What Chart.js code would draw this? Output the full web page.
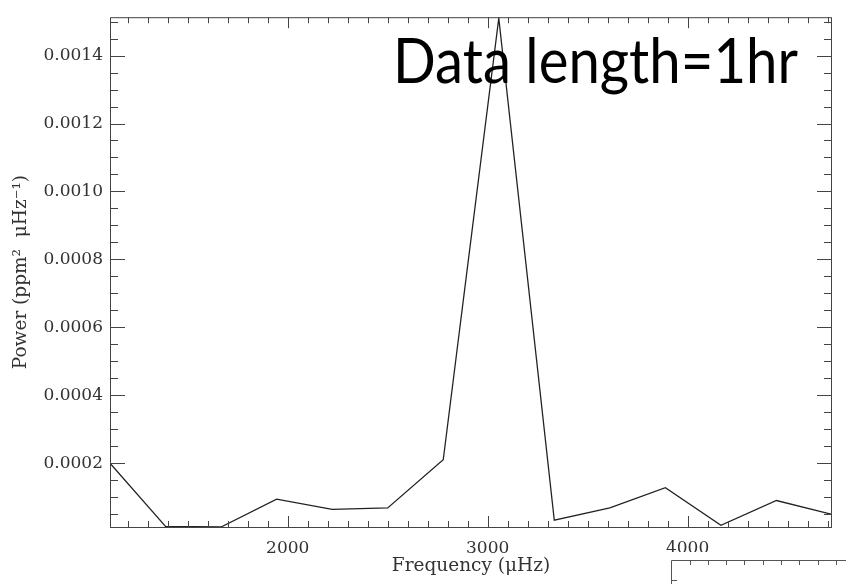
<!DOCTYPE html>
<html>
<head>
<meta charset="utf-8">
<script src="https://cdn.jsdelivr.net/npm/chart.js@4/dist/chart.umd.min.js"></script>
<style>
  html, body { margin: 0; padding: 0; background: #fff; }
  #wrap { width: 846px; height: 584px; }
</style>
</head>
<body>
<div id="wrap"><canvas id="powerChart"></canvas></div>
<script>
// frequency bins (uHz) for a 1 hr time series, and power
var freq = [1111.1, 1388.9, 1666.7, 1944.4, 2222.2, 2500.0, 2777.8, 3055.6, 3333.3, 3611.1, 3888.9, 4166.7, 4444.4, 4722.2];
var power = [0.000200, 0.000014, 0.000012, 0.000094, 0.000064, 0.000068, 0.000210, 0.001510, 0.000032, 0.000068, 0.000128, 0.000017, 0.000090, 0.000049];

var xTicks = [2000, 3000, 4000];
var yTicks = [0.0002, 0.0004, 0.0006, 0.0008, 0.0010, 0.0012, 0.0014];
var xMinorStep = 100;
var yMinorStep = 0.00005;
var xMin = 1111.1, xMax = 4722.2;
var yMin = 0.000012, yMax = 0.001513;

var titleText = "Data length=1hr";
var serif = "'DejaVu Serif', serif";
var axisColor = "#444";

// inward ticks on all four sides + box, the big label, and the clipped frame bottom right
var framePlugin = {
  id: 'frame',
  afterDraw: function(chart) {
    var ctx = chart.ctx, a = chart.chartArea;
    var xs = chart.scales.x, ys = chart.scales.y;
    ctx.save();
    ctx.strokeStyle = axisColor;
    ctx.lineWidth = 1;
    ctx.strokeRect(a.left + 0.5, a.top + 0.5, a.right - a.left - 1, a.bottom - a.top);

    ctx.beginPath();
    // x minor / major
    for (var v = Math.ceil(xMin / xMinorStep) * xMinorStep; v <= xMax; v += xMinorStep) {
      var px = Math.round(xs.getPixelForValue(v)) + 0.5;
      var major = xTicks.indexOf(v) >= 0;
      var len = major ? 11 : 6;
      ctx.moveTo(px, a.bottom); ctx.lineTo(px, a.bottom - len);
      ctx.moveTo(px, a.top); ctx.lineTo(px, a.top + len);
    }
    // y minor / major
    var n = Math.round(yMax / yMinorStep);
    for (var i = 1; i <= n; i++) {
      var yv = i * yMinorStep;
      if (yv < yMin) continue;
      var py = Math.round(ys.getPixelForValue(yv)) + 0.5;
      var isMajor = (i % 4 === 0);
      var l2 = isMajor ? 15 : 8;
      ctx.moveTo(a.left, py); ctx.lineTo(a.left + l2, py);
      ctx.moveTo(a.right, py); ctx.lineTo(a.right - l2, py);
    }
    ctx.stroke();

    // big annotation text (Calibri-like, compressed to the width seen)
    ctx.fillStyle = "#000";
    ctx.font = "62px Lato, 'Open Sans', sans-serif";
    ctx.textBaseline = "alphabetic";
    var w = ctx.measureText(titleText).width;
    ctx.translate(393, 83);
    ctx.scale(405 / w, 1);
    ctx.fillText(titleText, 0, 0);
    ctx.restore();

    // piece of the next figure's frame overlapping the bottom right
    ctx.save();
    ctx.fillStyle = "#fff";
    ctx.fillRect(660, 552, 186, 32);
    ctx.strokeStyle = "#555";
    ctx.lineWidth = 1;
    ctx.beginPath();
    ctx.moveTo(671.5, 584); ctx.lineTo(671.5, 560.5); ctx.lineTo(846, 560.5);
    for (var t = 689.5; t < 846; t += 18.3) {
      ctx.moveTo(Math.round(t) + 0.5, 560.5); ctx.lineTo(Math.round(t) + 0.5, 565);
    }
    ctx.moveTo(671.5, 580.5); ctx.lineTo(677, 580.5);
    ctx.stroke();
    ctx.restore();
  }
};

var ctx = document.getElementById("powerChart").getContext('2d');
var powerChart = new Chart(ctx, {
  type: 'line',
  data: {
    datasets: [{
      label: 'Power',
      data: freq.map(function(f, i) { return { x: f, y: power[i] }; }),
      borderColor: '#222',
      borderWidth: 1.3,
      pointRadius: 0,
      tension: 0,
      fill: false
    }]
  },
  options: {
    responsive: true,
    maintainAspectRatio: false,
    animation: false,
    layout: { padding: { top: 13, right: 14, left: 0, bottom: 0 } },
    plugins: { legend: { display: false }, tooltip: { enabled: false } },
    scales: {
      x: {
        type: 'linear',
        min: xMin, max: xMax,
        grid: { display: false, drawTicks: false },
        border: { display: false },
        afterBuildTicks: function(s) { s.ticks = xTicks.map(function(v) { return { value: v }; }); },
        afterFit: function(s) { s.height = 57; },
        ticks: {
          color: '#333', padding: 11, maxRotation: 0,
          font: { family: serif, size: 17 },
          callback: function(v) { return String(v); }
        },
        title: {
          display: true, text: 'Frequency (\u03bcHz)', color: '#333',
          font: { family: serif, size: 18.5 }, padding: { top: 0, bottom: 7 }
        }
      },
      y: {
        type: 'linear',
        min: yMin, max: yMax,
        grid: { display: false, drawTicks: false },
        border: { display: false },
        afterBuildTicks: function(s) { s.ticks = yTicks.map(function(v) { return { value: v }; }); },
        afterFit: function(s) { s.width = 110; },
        ticks: {
          color: '#333', padding: 7,
          font: { family: serif, size: 17 },
          callback: function(v) { return Number(v).toFixed(4); }
        },
        title: {
          display: true, text: 'Power (ppm\u00b2  \u03bcHz\u207b\u00b9)', color: '#333',
          font: { family: serif, size: 18.5 }, padding: { top: 10, bottom: 0 }
        }
      }
    }
  },
  plugins: [framePlugin]
});
</script>
</body>
</html>
